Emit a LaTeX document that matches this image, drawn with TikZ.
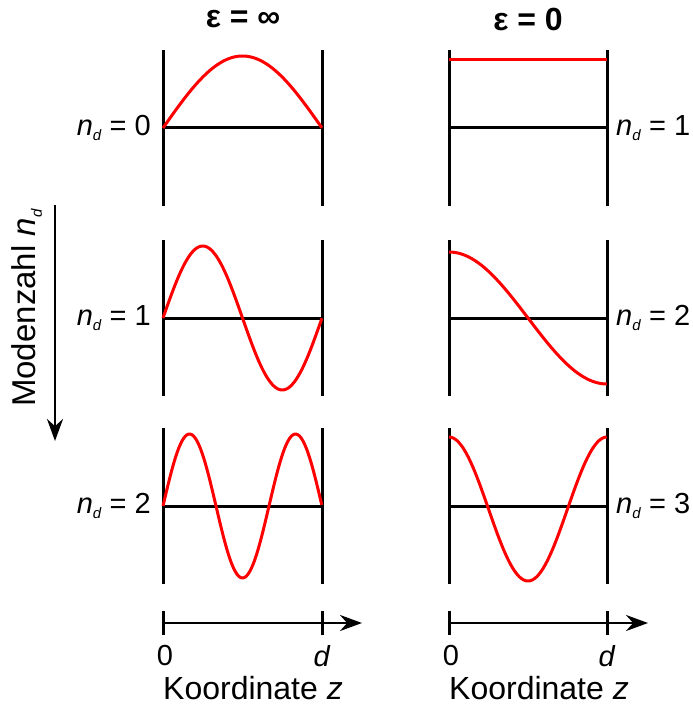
\documentclass[tikz,border=0pt]{standalone}
\usepackage{fontspec}
\setmainfont{Liberation Sans}
\usetikzlibrary{arrows.meta}

\newcommand{\nd}{\textit{n}\raisebox{-0.35ex}{\fontsize{15}{15}\selectfont\textit{d}}}

\begin{document}
\begin{tikzpicture}[
        x=1pt, y=-1pt,
        wand/.style={line width=3pt},
        welle/.style={line width=3pt, red, smooth},
        achse/.style={line width=2.6pt, -{Stealth[length=22pt,width=16pt]}},
        every node/.style={font=\fontsize{29}{34}\selectfont, inner sep=0pt}
    ]
        \useasboundingbox (0,0) rectangle (692,708);

        % ==================================================
        % TITEL
        % ==================================================

        \node[font=\fontsize{32}{38}\selectfont\bfseries] (tinf) at (243,19) {ε = ∞};
        \node[font=\fontsize{32}{38}\selectfont\bfseries] (tnull) at (528,19) {ε = 0};

        % ==================================================
        % WAENDE UND NULLLINIEN
        % ==================================================

        \foreach \yb [count=\i] in {128,318,506} {
            \coordinate (lo\i) at (163,\yb-78);
            \coordinate (lu\i) at (163,\yb+78);
            \coordinate (ro\i) at (322,\yb-78);
            \coordinate (ru\i) at (322,\yb+78);
            \coordinate (ll\i) at (163,\yb);
            \coordinate (lr\i) at (322,\yb);
            \draw[wand] (lo\i) -- (lu\i);
            \draw[wand] (ro\i) -- (ru\i);
            \draw[wand] (ll\i) -- (lr\i);

            \coordinate (Lo\i) at (449,\yb-78);
            \coordinate (Lu\i) at (449,\yb+78);
            \coordinate (Ro\i) at (607,\yb-78);
            \coordinate (Ru\i) at (607,\yb+78);
            \coordinate (Ll\i) at (449,\yb);
            \coordinate (Lr\i) at (607,\yb);
            \draw[wand] (Lo\i) -- (Lu\i);
            \draw[wand] (Ro\i) -- (Ru\i);
            \draw[wand] (Ll\i) -- (Lr\i);
        }

        % ==================================================
        % MODEN
        % ==================================================

        % epsilon = unendlich
        \draw[welle] plot[domain=0:1, samples=60] ({163+159*\x},{128-72*sin(180*\x)});
        \draw[welle] plot[domain=0:1, samples=80] ({163+159*\x},{318-72*sin(360*\x)});
        \draw[welle] plot[domain=0:1, samples=100] ({163+159*\x},{506-72*sin(540*\x)});

        % epsilon = 0
        \draw[welle] (449,60) -- (607,60);
        \draw[welle] plot[domain=0:1, samples=80] ({449+158*\x},{318-66*cos(180*\x)});
        \draw[welle] plot[domain=0:1, samples=100] ({449+158*\x},{509-72*cos(360*\x)});

        % ==================================================
        % BESCHRIFTUNG MODEN
        % ==================================================

        \node[anchor=east] (n0) at (151,128) {\nd{} = 0};
        \node[anchor=east] (n1) at (151,318) {\nd{} = 1};
        \node[anchor=east] (n2) at (151,506) {\nd{} = 2};

        \node[anchor=west] (m1) at (616,128) {\nd{} = 1};
        \node[anchor=west] (m2) at (616,318) {\nd{} = 2};
        \node[anchor=west] (m3) at (616,506) {\nd{} = 3};

        % Modenzahl
        \node[rotate=90, font=\fontsize{33}{38}\selectfont] (modenzahl) at (27,308) {Modenzahl \nd};
        \coordinate (mo) at (55,205);
        \coordinate (mu) at (55,441);
        \draw[achse] (mo) -- (mu);

        % ==================================================
        % KOORDINATENACHSEN
        % ==================================================

        \coordinate (a0) at (163,623);
        \coordinate (ad) at (322,623);
        \coordinate (ae) at (362,623);
        \draw[achse] (a0) -- (ae);
        \draw[wand] ([yshift=-12pt]a0) -- ([yshift=12pt]a0);
        \draw[wand] ([yshift=-12pt]ad) -- ([yshift=12pt]ad);
        \node (z0) at (165,656) {0};
        \node (zd) at (322,656) {\textit{d}};
        \node[font=\fontsize{32}{38}\selectfont] (kz) at (253,688) {Koordinate \textit{z}};

        \coordinate (b0) at (449,623);
        \coordinate (bd) at (607,623);
        \coordinate (be) at (648,623);
        \draw[achse] (b0) -- (be);
        \draw[wand] ([yshift=-12pt]b0) -- ([yshift=12pt]b0);
        \draw[wand] ([yshift=-12pt]bd) -- ([yshift=12pt]bd);
        \node (y0) at (451,656) {0};
        \node (yd) at (607,656) {\textit{d}};
        \node[font=\fontsize{32}{38}\selectfont] (kzz) at (539,688) {Koordinate \textit{z}};
    \end{tikzpicture}
\end{document}
